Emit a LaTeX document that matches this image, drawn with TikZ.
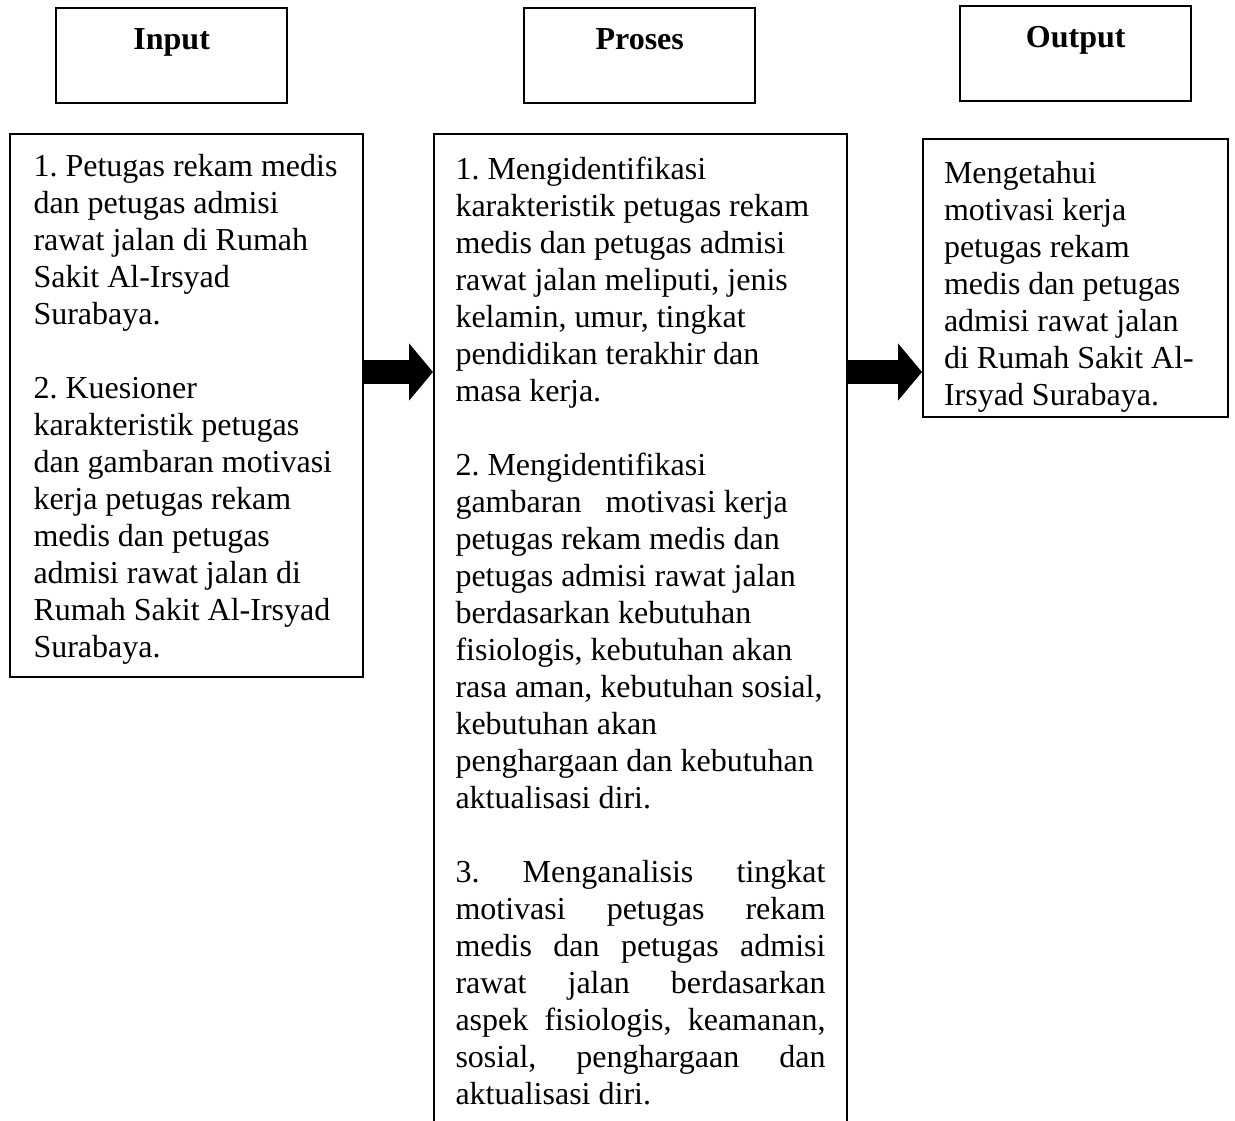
\documentclass[tikz,border=0pt]{standalone}
\usepackage{fontspec}
\setmainfont{Liberation Serif}
\usetikzlibrary{arrows.meta}
\hyphenpenalty=10000
\exhyphenpenalty=10000
\frenchspacing

\tikzstyle{headbox} = [draw=black, line width=1.2pt, rectangle,
    minimum width=115.5pt, inner sep=0pt, text height=20.5pt, text depth=27pt,
    font=\fontsize{16}{19}\selectfont\bfseries]
\tikzstyle{contentbox} = [draw=black, line width=1pt, rectangle, align=justify,
    inner ysep=0pt, font=\fontsize{16}{18.5}\selectfont]
\tikzstyle{flowarrow} = [line width=12pt, -{Triangle[length=12pt,width=28pt]}]

\begin{document}
\begin{tikzpicture}[x=0.5pt, y=-0.5pt]
    \useasboundingbox (0,0) rectangle (1235,1120);
%------------ Kopf-Kaesten ---------------------
    \node [headbox, anchor=north west] (inputhead) at (55,7) {Input};
    \node [headbox, anchor=north west] (proseshead) at (523,7) {Proses};
    \node [headbox, anchor=north west] (outputhead) at (959,5) {Output};
%------------ Inhalt Input ---------------------
    \node [contentbox, anchor=north west, minimum width=176.5pt,
        minimum height=271.5pt, inner xsep=11.5pt, text width=153pt] (inputbox) at (9,133) {%
        \rule{0pt}{15pt}1. Petugas rekam medis\\
        dan petugas admisi\\
        rawat jalan di Rumah\\
        Sakit Al-Irsyad\\
        Surabaya.\\[\baselineskip]
        2. Kuesioner\\
        karakteristik petugas\\
        dan gambaran motivasi\\
        kerja petugas rekam\\
        medis dan petugas\\
        admisi rawat jalan di\\
        Rumah Sakit Al-Irsyad\\
        Surabaya.};
%------------ Inhalt Proses ---------------------
    \node [contentbox, anchor=north west, minimum width=206.5pt,
        minimum height=496.5pt, inner xsep=10.75pt, text width=185pt] (prosesbox) at (433,133) {%
        1. Mengidentifikasi\\
        karakteristik petugas rekam\\
        medis dan petugas admisi\\
        rawat jalan meliputi, jenis\\
        kelamin, umur, tingkat\\
        pendidikan terakhir dan\\
        masa kerja.\\[\baselineskip]
        2. Mengidentifikasi\\
        gambaran\ \ \ motivasi kerja\\
        petugas rekam medis dan\\
        petugas admisi rawat jalan\\
        berdasarkan kebutuhan\\
        fisiologis, kebutuhan akan\\
        rasa aman, kebutuhan sosial,\\
        kebutuhan akan\\
        penghargaan dan kebutuhan\\
        aktualisasi diri.\\[\baselineskip]
        3. Menganalisis tingkat\linebreak
        motivasi petugas rekam\linebreak
        medis dan petugas admisi\linebreak
        rawat jalan berdasarkan\linebreak
        aspek fisiologis, keamanan,\linebreak
        sosial, penghargaan dan\linebreak
        aktualisasi diri.};
%------------ Inhalt Output ---------------------
    \node [contentbox, anchor=north west, minimum width=152.5pt,
        minimum height=139pt, inner xsep=10.5pt, text width=131.5pt] (outputbox) at (922,138) {%
        \rule{0pt}{19.5pt}Mengetahui\\
        motivasi kerja\\
        petugas rekam\\
        medis dan petugas\\
        admisi rawat jalan\\
        di Rumah Sakit Al-\\
        Irsyad Surabaya.};
%------------ Pfeile ---------------------
    \coordinate (arrowrow) at (0,372);
    \draw [flowarrow] (inputbox.east |- arrowrow) -- (prosesbox.west |- arrowrow);
    \draw [flowarrow] (prosesbox.east |- arrowrow) -- (outputbox.west |- arrowrow);
\end{tikzpicture}
\end{document}
